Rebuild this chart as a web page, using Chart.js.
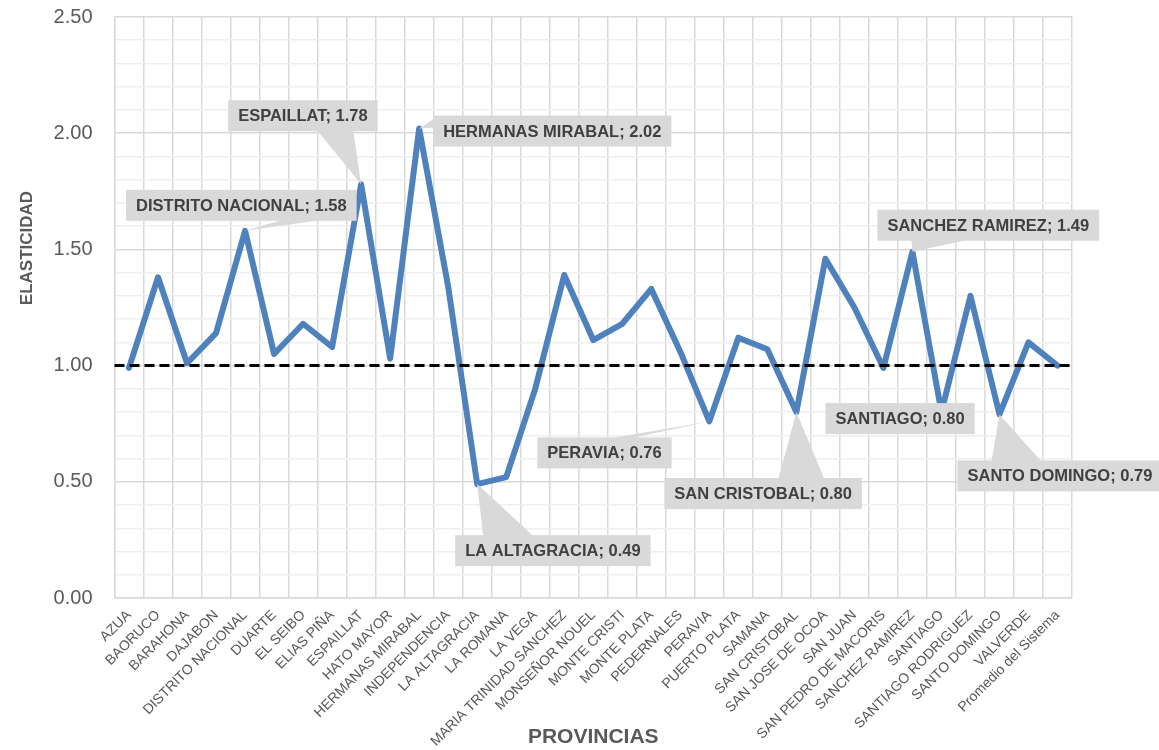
<!DOCTYPE html>
<html>
<head>
<meta charset="utf-8">
<script src="https://cdn.jsdelivr.net/npm/chart.js@4/dist/chart.umd.min.js"></script>
<style>
  html, body { margin: 0; padding: 0; background: #ffffff; }
  #wrap { width: 1159px; height: 750px; }
</style>
</head>
<body>
<div id="wrap"><canvas id="c" width="1159" height="750"></canvas></div>
<script>
// ---- data ----
const provinces = [
  "AZUA","BAORUCO","BARAHONA","DAJABON","DISTRITO NACIONAL","DUARTE","EL SEIBO","ELIAS PIÑA",
  "ESPAILLAT","HATO MAYOR","HERMANAS MIRABAL","INDEPENDENCIA","LA ALTAGRACIA","LA ROMANA","LA VEGA",
  "MARIA TRINIDAD SANCHEZ","MONSEÑOR NOUEL","MONTE CRISTI","MONTE PLATA","PEDERNALES","PERAVIA",
  "PUERTO PLATA","SAMANA","SAN CRISTOBAL","SAN JOSE DE OCOA","SAN JUAN","SAN PEDRO DE MACORIS",
  "SANCHEZ RAMIREZ","SANTIAGO","SANTIAGO RODRIGUEZ","SANTO DOMINGO","VALVERDE","Promedio del Sistema"
];
const elasticity = [
  0.99, 1.38, 1.01, 1.14, 1.58, 1.05, 1.18, 1.08,
  1.78, 1.03, 2.02, 1.34, 0.49, 0.52, 0.90,
  1.39, 1.11, 1.18, 1.33, 1.06, 0.76,
  1.12, 1.07, 0.80, 1.46, 1.25, 0.99,
  1.49, 0.80, 1.30, 0.79, 1.10, 1.00
];
const yMin = 0;
const yMax = 2.5;
const yMinorStep = 0.1;
const yMajorStep = 0.5;
const referenceLevel = 1.0;
const xTitle = "PROVINCIAS";
const yTitle = "ELASTICIDAD";
const labelledIndices = [4, 8, 10, 12, 20, 23, 27, 28, 30];

// ---- styling / placement (pixel offsets) ----
const calloutStyle = {
  4:  { dx: -119, dy: -41, side: "bottom", b0: 157, b1: 197 },
  8:  { dx: -133, dy: -84, side: "bottom", b0: 89,  b1: 125 },
  10: { dx: 14,   dy: -13, side: "left",   b0: 3,   b1: 12 },
  12: { dx: -22,  dy: 51,  side: "top",    b0: 28,  b1: 78 },
  20: { dx: -172, dy: 16,  side: "top",    b0: 72,  b1: 92 },
  23: { dx: -132, dy: 66,  side: "top",    b0: 114, b1: 160 },
  27: { dx: -35,  dy: -42, side: "bottom", b0: 34,  b1: 91 },
  28: { dx: -116, dy: -9,  side: "none",   b0: 0,   b1: 0 },
  30: { dx: -42,  dy: 46,  side: "top",    b0: 34,  b1: 84 }
};
const yTitlePos = { x: 27, y: 248 };
const FONT = "'Liberation Sans', Arial, sans-serif";

const isMajor = v => Math.abs(v / yMajorStep - Math.round(v / yMajorStep)) < 1e-6;

const overlayPlugin = {
  id: "overlay",
  afterDatasetsDraw(chart) {
    const ctx = chart.ctx;
    const area = chart.chartArea;
    const yS = chart.scales.y;
    const yRef = yS.getPixelForValue(referenceLevel);
    ctx.save();
    ctx.strokeStyle = "#000000";
    ctx.lineWidth = 3;
    ctx.setLineDash([10, 5]);
    ctx.beginPath();
    ctx.moveTo(area.left, yRef);
    ctx.lineTo(area.right, yRef);
    ctx.stroke();
    ctx.restore();

    const meta = chart.getDatasetMeta(0);
    ctx.save();
    ctx.font = "bold 16.5px " + FONT;
    ctx.textBaseline = "middle";
    labelledIndices.forEach(i => {
      const st = calloutStyle[i];
      const pt = meta.data[i];
      const px = pt.x, py = pt.y;
      const text = provinces[i] + "; " + elasticity[i].toFixed(2);
      const w = ctx.measureText(text).width + 20;
      const h = 31;
      const bx = px + st.dx, by = py + st.dy;
      ctx.fillStyle = "#d9d9d9";
      if (st.side !== "none") {
        ctx.beginPath();
        ctx.moveTo(px, py);
        if (st.side === "bottom") {
          ctx.lineTo(bx + st.b0, by + h - 1);
          ctx.lineTo(bx + st.b1, by + h - 1);
        } else if (st.side === "top") {
          ctx.lineTo(bx + st.b0, by + 1);
          ctx.lineTo(bx + st.b1, by + 1);
        } else if (st.side === "left") {
          ctx.lineTo(bx + 1, by + st.b0);
          ctx.lineTo(bx + 1, by + st.b1);
        }
        ctx.closePath();
        ctx.fill();
      }
      ctx.fillRect(bx, by, w, h);
      ctx.fillStyle = "#404040";
      ctx.textAlign = "left";
      ctx.fillText(text, bx + 10, by + h / 2 + 1);
    });
    ctx.restore();
  },
  afterDraw(chart) {
    const ctx = chart.ctx;
    ctx.save();
    ctx.translate(yTitlePos.x, yTitlePos.y);
    ctx.rotate(-Math.PI / 2);
    ctx.font = "bold 17px " + FONT;
    ctx.fillStyle = "#595959";
    ctx.textAlign = "center";
    ctx.textBaseline = "middle";
    ctx.fillText(yTitle, 0, 0);
    ctx.restore();
  }
};

const bgPlugin = {
  id: "bg",
  beforeDraw(chart) {
    const ctx = chart.ctx;
    ctx.save();
    ctx.fillStyle = "#ffffff";
    ctx.fillRect(0, 0, chart.width, chart.height);
    ctx.restore();
  }
};

function zeroPad(scale) {
  scale.paddingTop = 0;
  scale.paddingBottom = 0;
  scale.paddingLeft = 0;
  scale.paddingRight = 0;
}

new Chart(document.getElementById("c"), {
  type: "line",
  data: {
    labels: provinces,
    datasets: [{
      data: elasticity,
      borderColor: "#4F81BD",
      borderWidth: 6,
      pointRadius: 0,
      pointHoverRadius: 0,
      tension: 0,
      fill: false,
      borderJoinStyle: "round",
      borderCapStyle: "round"
    }]
  },
  options: {
    responsive: false,
    animation: false,
    devicePixelRatio: 1,
    layout: { padding: { top: 17, right: 87, left: 0, bottom: 0 } },
    plugins: {
      legend: { display: false },
      tooltip: { enabled: false },
      title: { display: false }
    },
    scales: {
      x: {
        offset: true,
        grid: { offset: true, color: "#d9d9d9", lineWidth: 1.5, drawTicks: false },
        border: { color: "#d9d9d9", width: 1.5 },
        ticks: {
          autoSkip: false,
          maxRotation: 45,
          minRotation: 45,
          padding: 9,
          color: "#595959",
          font: { family: FONT, size: 14 }
        },
        title: {
          display: true,
          text: xTitle,
          color: "#595959",
          padding: { top: 0, bottom: 0 },
          font: { family: FONT, size: 21, weight: "bold" }
        },
        afterFit(scale) { scale.height = 152; zeroPad(scale); }
      },
      y: {
        min: yMin,
        max: yMax,
        grid: {
          drawTicks: false,
          color: ctx => (ctx.tick && isMajor(ctx.tick.value)) ? "#d9d9d9" : "#efefef",
          lineWidth: 1.5
        },
        border: { color: "#d9d9d9", width: 1.5 },
        ticks: {
          stepSize: yMinorStep,
          autoSkip: false,
          maxTicksLimit: 40,
          padding: 22,
          color: "#595959",
          font: { family: FONT, size: 20, lineHeight: 1 },
          callback: v => isMajor(v) ? Number(v).toFixed(2) : ""
        },
        title: { display: false },
        afterFit(scale) { scale.width = 114.5; zeroPad(scale); }
      }
    }
  },
  plugins: [bgPlugin, overlayPlugin]
});
</script>
</body>
</html>
